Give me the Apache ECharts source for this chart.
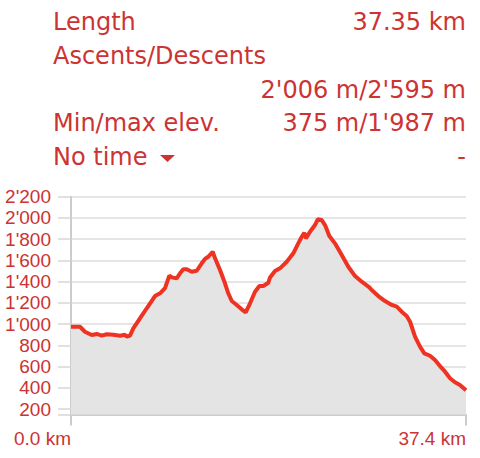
<!DOCTYPE html>
<html>
<head>
<meta charset="utf-8">
<script src="https://cdn.jsdelivr.net/npm/echarts@6/dist/echarts.min.js"></script>
<style>
html,body{margin:0;padding:0;background:#fff;}
#chart{width:480px;height:458px;}
</style>
</head>
<body>
<div id="chart"></div>
<script>
// ---- data ----
const distKm = [0.00,0.85,1.32,1.96,2.43,2.90,3.38,4.00,4.63,5.11,5.27,5.58,5.89,6.52,7.16,7.94,8.42,8.89,9.30,9.52,9.99,10.31,10.62,10.94,11.41,11.89,12.36,12.67,12.98,13.40,13.62,14.09,14.56,14.87,15.20,15.67,16.14,16.52,16.93,17.40,17.81,18.18,18.66,18.82,19.29,19.76,20.40,21.02,21.49,21.82,22.06,22.22,22.60,23.07,23.33,23.71,24.02,24.43,24.96,25.60,26.22,26.86,27.49,28.21,28.43,29.06,29.69,30.33,30.80,31.27,31.74,32.06,32.53,33.00,33.41,33.95,34.42,34.89,35.37,35.84,36.31,36.78,37.35];
const elevM  = [976,976,929,898,908,892,905,901,892,901,882,893,961,1055,1150,1265,1291,1340,1458,1441,1432,1479,1517,1517,1494,1503,1573,1614,1635,1682,1620,1510,1385,1291,1218,1181,1140,1112,1197,1306,1359,1359,1390,1440,1500,1526,1588,1667,1761,1823,1861,1808,1870,1933,1987,1980,1933,1830,1761,1651,1541,1453,1400,1347,1322,1265,1218,1181,1165,1118,1077,1023,882,788,726,703,663,606,553,491,453,428,378];
const yTickValues = [200,400,600,800,1000,1200,1400,1600,1800,2000,2200];
const xTickValues = [0, 37.35];
const headerRows = [
  ["Length", "37.35 km"],
  ["Ascents/Descents", ""],
  ["", "2'006 m/2'595 m"],
  ["Min/max elev.", "375 m/1'987 m"],
  ["No time", "-"]
];

// ---- styling ----
const RED_TEXT = '#cc3333';
const LINE_RED = '#ee3322';
const fmtThousands = v => {
  const s = String(Math.round(v));
  return s.replace(/\B(?=(\d{3})+(?!\d))/g, "'");
};

const graphics = [];
const rowY = [22, 56, 89.5, 123, 157];
headerRows.forEach((r, i) => {
  if (r[0]) graphics.push({type:'text', x:53, y:rowY[i], style:{text:r[0], font:'24px "DejaVu Sans"', fill:RED_TEXT, textAlign:'left', textVerticalAlign:'middle'}});
  if (r[1]) graphics.push({type:'text', x:466, y:rowY[i], style:{text:r[1], font:'24px "DejaVu Sans"', fill:RED_TEXT, textAlign:'right', textVerticalAlign:'middle'}});
});
graphics.push({type:'polygon', shape:{points:[[160,155],[175,155],[167.5,162]]}, style:{fill:RED_TEXT}});

const chart = echarts.init(document.getElementById('chart'), null, {renderer:'svg'});
chart.setOption({
  animation:false,
  backgroundColor:'#fff',
  graphic: graphics,
  grid:{left:71, right:14, top:196.7, bottom:43.5, containLabel:false, outerBoundsMode:'none'},
  xAxis:{
    type:'value', min:0, max:37.35,
    axisLine:{show:true, lineStyle:{color:'#cccccc', width:2}},
    axisTick:{show:true, customValues:xTickValues, length:11, lineStyle:{color:'#cccccc', width:2}},
    axisLabel:{customValues:xTickValues, formatter:v=>v.toFixed(1)+' km', align:'right', margin:14,
      color:RED_TEXT, fontFamily:'"Liberation Sans", Arial, sans-serif', fontSize:19},
    splitLine:{show:false}
  },
  yAxis:{
    type:'value', min:150, max:2200,
    axisLine:{show:true, lineStyle:{color:'#cccccc', width:2}},
    axisTick:{show:true, customValues:[150].concat(yTickValues), length:13, lineStyle:{color:'#d6d6d6', width:1.5}},
    axisLabel:{customValues:yTickValues, formatter:fmtThousands, margin:20,
      color:RED_TEXT, fontFamily:'"Liberation Sans", Arial, sans-serif', fontSize:19},
    splitLine:{show:true, lineStyle:{color:'#dddddd', width:1.5}}
  },
  series:[{
    type:'line',
    data: distKm.map((d,i)=>[d, elevM[i]]),
    symbol:'none',
    smooth:false,
    lineStyle:{color:LINE_RED, width:4},
    areaStyle:{color:'#e4e4e4', opacity:1}
  }]
});
</script>
</body>
</html>
